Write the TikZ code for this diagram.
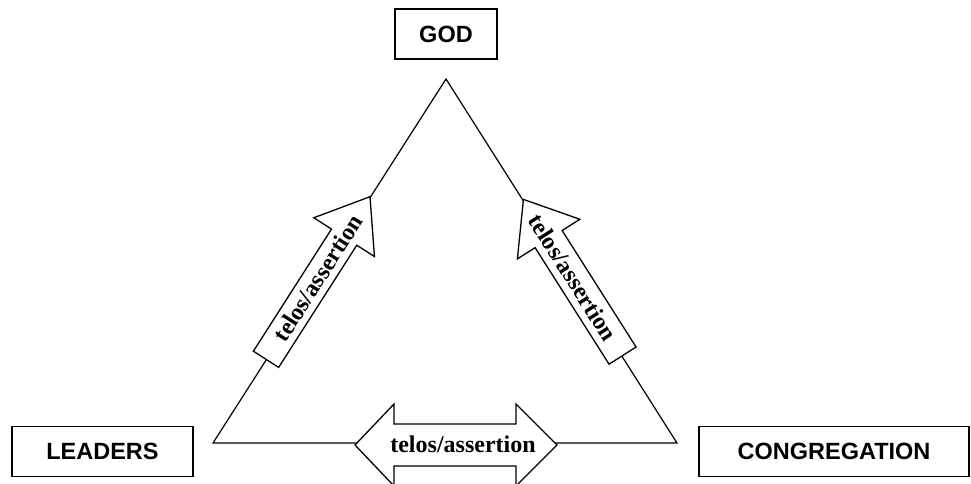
\documentclass[tikz,border=0pt]{standalone}
\usepackage{fontspec}
\setmainfont{Liberation Serif}
\newfontfamily\labelfont{Liberation Sans}
\begin{document}
\begin{tikzpicture}[x=1pt,y=-1pt,
  box/.style={draw, line width=1.4pt, minimum height=50pt, inner sep=0pt,
    font=\labelfont\bfseries\fontsize{23.5}{26}\selectfont},
  edge/.style={line width=1.2pt},
  fat/.style={draw, line width=1.3pt, fill=white, line join=miter},
  tag/.style={font=\bfseries\fontsize{24}{26}\selectfont, inner sep=0pt}]
\useasboundingbox (0,0) rectangle (971,483);
% boxes
\node[box, minimum width=102pt] (god) at (446,34) {GOD};
\node[box, minimum width=181pt] (leaders) at (102.5,451.5) {LEADERS};
\node[box, minimum width=270pt] (cong) at (834,451.5) {CONGREGATION};
% triangle
\coordinate (top) at (446,79);
\coordinate (left) at (213,443);
\coordinate (right) at (677,443);
\draw[edge] (left) -- (top) -- (right) -- cycle;
% left arrow
\coordinate (la) at (318,278);
\begin{scope}[shift={(la)}, rotate=57.4]
\draw[fat] (-96.5pt,-15pt) -- (48.5pt,-15pt) -- (48.5pt,-36pt) -- (96.5pt,0pt)
  -- (48.5pt,36pt) -- (48.5pt,15pt) -- (-96.5pt,15pt) -- cycle;
\end{scope}
\node[tag, rotate=57.4] (lt) at (la) {telos/assertion};
% right arrow
\coordinate (ra) at (573,277.5);
\begin{scope}[shift={(ra)}, rotate=122.4]
\draw[fat] (-92.5pt,-16pt) -- (45.5pt,-16pt) -- (45.5pt,-37pt) -- (92.5pt,0pt)
  -- (45.5pt,37pt) -- (45.5pt,16pt) -- (-92.5pt,16pt) -- cycle;
\end{scope}
\node[tag, rotate=-57.6] (rt) at (ra) {telos/assertion};
% bottom double arrow
\coordinate (ba) at (456,445);
\begin{scope}[shift={(ba)}]
\draw[fat] (-101pt,0pt) -- (-62pt,41pt) -- (-62pt,21pt) -- (60pt,21pt) -- (60pt,41pt)
  -- (101pt,0pt) -- (60pt,-41pt) -- (60pt,-21pt) -- (-62pt,-21pt) -- (-62pt,-41pt) -- cycle;
\end{scope}
\node[tag] (bt) at (463,444) {telos/assertion};
\end{tikzpicture}
\end{document}
